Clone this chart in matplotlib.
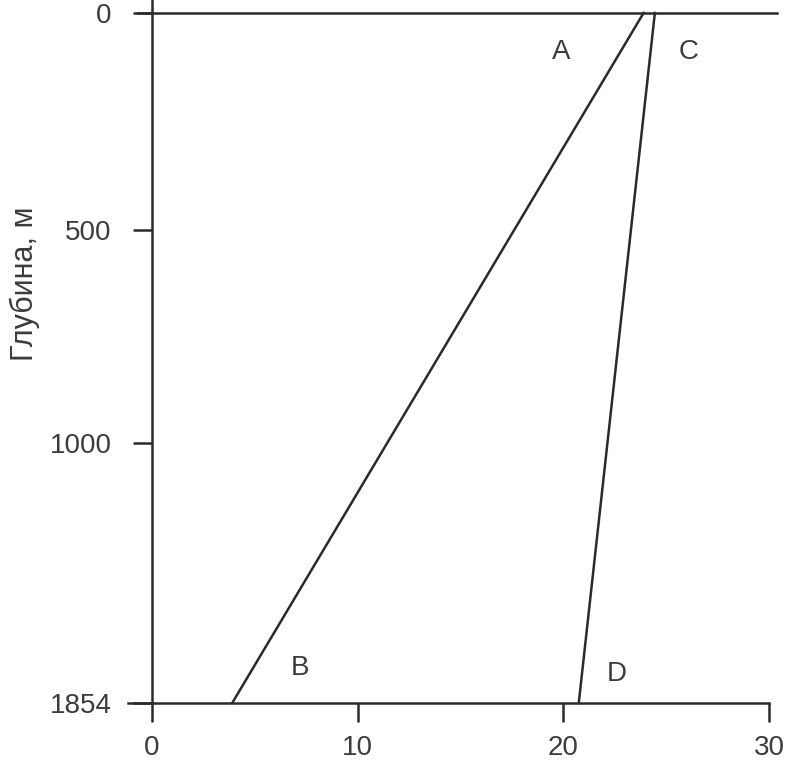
import matplotlib
matplotlib.use("Agg")
import matplotlib.pyplot as plt

# ---- data ----
line_AB_x = [23.9, 3.9]
line_AB_depth = [0, 1854]
line_CD_x = [24.45, 20.75]
line_CD_depth = [0, 1854]

point_labels = ["A", "B", "C", "D"]
point_label_x = [19.9, 7.2, 26.1, 22.6]
point_label_depth = [105, 1760, 105, 1775]

xtick_vals = [0, 10, 20, 30]
xtick_labels = ["0", "10", "20", "30"]
ytick_pos = [0, 583, 1155, 1854]
ytick_labels = ["0", "500", "1000", "1854"]
ylabel = "Глубина, м"

# ---- styling / layout ----
plt.rcParams['font.family'] = ['Liberation Sans', 'DejaVu Sans']
W, H, DPI = 794, 767, 100
fig = plt.figure(figsize=(W / DPI, H / DPI), dpi=DPI)
fig.patch.set_facecolor("white")

# pixel mapping of the reference: x0->152px, x30->769px ; depth0->13px, depth1854->703px
px_per_x = (769 - 152) / 30.0
px_per_d = (703 - 13) / 1854.0
xlim = (-2.0, 31.0)
ylim = (1854 + 40, -35)
left_px = 152 + xlim[0] * px_per_x
right_px = 152 + xlim[1] * px_per_x
top_px = 13 + ylim[1] * px_per_d
bot_px = 13 + ylim[0] * px_per_d
ax = fig.add_axes([left_px / W, 1 - bot_px / H, (right_px - left_px) / W, (bot_px - top_px) / H])
ax.set_xlim(*xlim)
ax.set_ylim(*ylim)
ax.patch.set_alpha(0)

lc = "#2a2a2a"
tc = "#3c3c3c"
lw = 1.8

for s in ["left", "bottom", "top"]:
    ax.spines[s].set_color(lc)
    ax.spines[s].set_linewidth(lw)
ax.spines["right"].set_visible(False)
ax.spines["left"].set_position(("data", 0))
ax.spines["left"].set_bounds(-35, 1854)
ax.spines["bottom"].set_position(("data", 1854))
ax.spines["bottom"].set_bounds(-1.17, 30)
ax.spines["top"].set_position(("data", 0))
ax.spines["top"].set_bounds(-0.7, 30.4)

ax.set_xticks(xtick_vals)
ax.set_xticklabels(xtick_labels)
ax.set_yticks(ytick_pos)
ax.set_yticklabels(ytick_labels)
ax.tick_params(axis="both", direction="out", length=14, width=lw, color=lc,
               labelsize=20, labelcolor=tc)
ax.tick_params(axis="x", pad=9)
ax.tick_params(axis="y", pad=15)

ax.plot(line_AB_x, line_AB_depth, color=lc, lw=lw, clip_on=False)
ax.plot(line_CD_x, line_CD_depth, color=lc, lw=lw, clip_on=False)

for lab, x, d in zip(point_labels, point_label_x, point_label_depth):
    ax.text(x, d, lab, fontsize=20, color=tc, ha="center", va="center")

fig.text(25 / W, 1 - 284 / H, ylabel, rotation=90, fontsize=22, color=tc,
         ha="center", va="center")

fig.savefig("out.png", dpi=DPI, facecolor="white")
